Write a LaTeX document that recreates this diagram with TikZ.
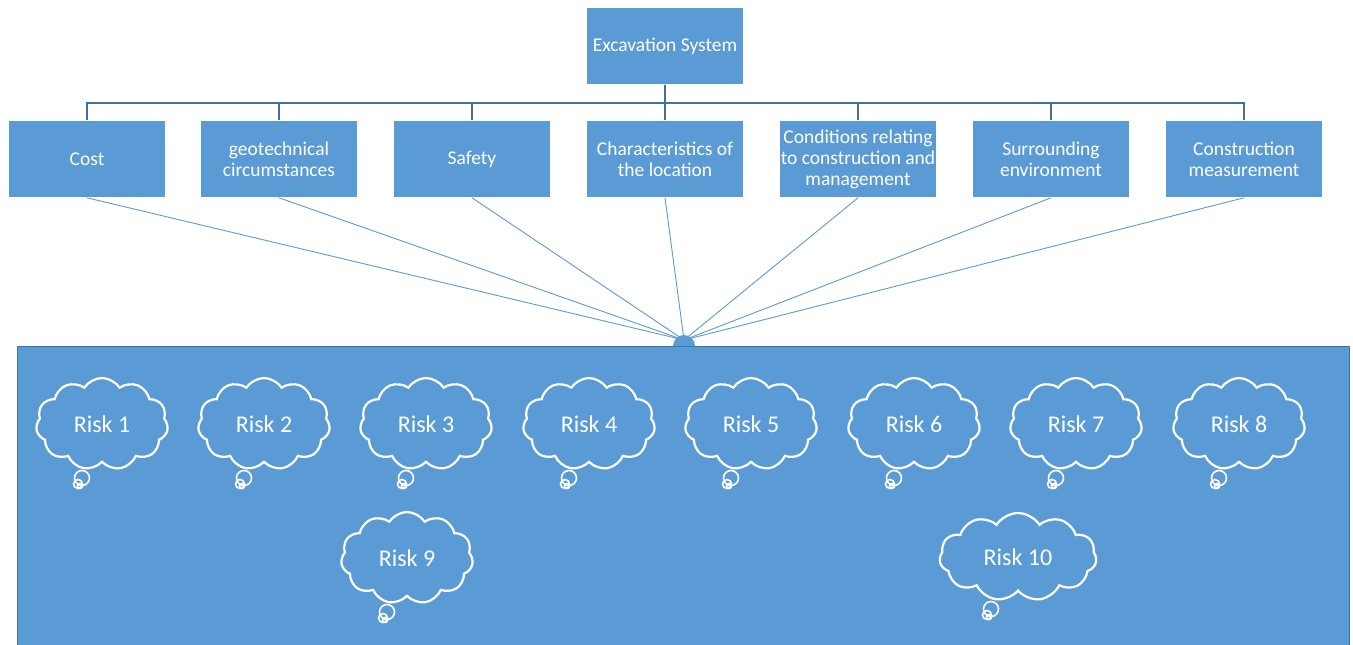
\documentclass[tikz,border=0pt]{standalone}
\usepackage{fontspec}
\setmainfont{Carlito}
\usetikzlibrary{shapes.symbols,calc}
\definecolor{boxblue}{RGB}{91,155,213}
\definecolor{treeblue}{RGB}{65,113,156}
\tikzset{
  box/.style={rectangle, fill=boxblue, draw=white, line width=0.6pt,
    minimum width=157pt, minimum height=77pt, align=center, text=white,
    font=\fontsize{19.5}{21}\selectfont, inner sep=1pt},
  riskcloud/.style={cloud, cloud puffs=11, cloud puff arc=115, cloud ignores aspect,
    draw=white, line width=2.2pt, fill=boxblue, minimum width=132pt,
    minimum height=92pt, text=white, font=\fontsize{24}{28}\selectfont},
  tailring/.style={draw=white, line width=1.6pt},
  tree/.style={draw=treeblue, line width=1.5pt},
  spoke/.style={draw=boxblue, line width=0.9pt},
}
\begin{document}
\begin{tikzpicture}[x=1pt,y=-1pt]
  \useasboundingbox (0,0) rectangle (1353,645);
  \fill[white] (0,0) rectangle (1353,645);

  % root and category boxes
  \node[box] (top) at (665,46) {Excavation System};
  \node[box] (c1) at (87,159)   {Cost};
  \node[box] (c2) at (279,159)  {geotechnical\\circumstances};
  \node[box] (c3) at (472,159)  {Safety};
  \node[box] (c4) at (665,159)  {Characteristics of\\the location};
  \node[box] (c5) at (858,159)  {Conditions relating\\to construction and\\management};
  \node[box] (c6) at (1051,159) {Surrounding\\environment};
  \node[box] (c7) at (1244,159) {Construction\\measurement};

  % tree connectors
  \coordinate (bus) at (665,103);
  \draw[tree] (top.south) -- (bus);
  \foreach \i in {1,...,7} { \draw[tree] (c\i.north) |- (bus); }

  % spokes from every category to the risk panel
  \coordinate (hub) at (684,340);
  \foreach \i in {1,...,7} { \draw[spoke] (c\i.south) -- (hub); }

  % risk panel
  \node[rectangle, fill=boxblue, draw=treeblue, line width=1.2pt,
        minimum width=1332pt, minimum height=300pt, anchor=north west,
        inner sep=0pt] (panel) at (17,346) {};
  \fill[boxblue] (hub) ++(-11,6) arc[start angle=180, end angle=360, radius=11];

  % risk clouds with their thought tails
  \foreach \n/\x/\y in {1/102/424, 2/264/424, 3/426/424, 4/589/424,
                        5/751/424, 6/914/424, 7/1076/424, 8/1239/424,
                        9/407/558} {
    \node[riskcloud] (r\n) at (\x,\y) {Risk \n};
    \draw[tailring] ($(r\n.center)+(-20,54)$) circle (7.5);
    \draw[tailring] ($(r\n.center)+(-24,60)$) circle (4.5);
    \draw[tailring] ($(r\n.center)+(-22,62)$) circle (2.5);
  }
  \node[riskcloud, minimum width=157pt, minimum height=88pt] (r10) at (1018,557) {Risk 10};
  \draw[tailring] ($(r10.center)+(-27,52)$) circle (7.5);
  \draw[tailring] ($(r10.center)+(-31,58)$) circle (4.5);
  \draw[tailring] ($(r10.center)+(-29,60)$) circle (2.5);
\end{tikzpicture}
\end{document}
